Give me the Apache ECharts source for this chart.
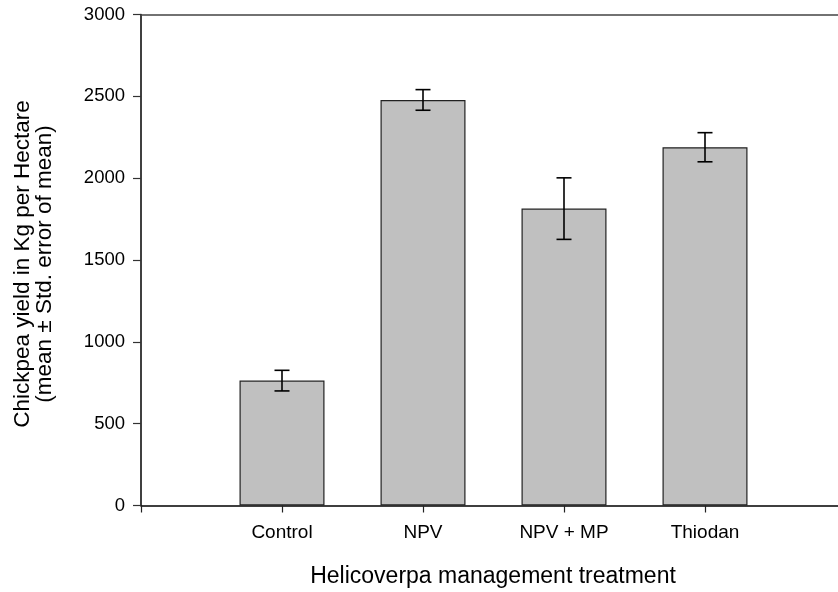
<!DOCTYPE html>
<html>
<head>
<meta charset="utf-8">
<script src="https://cdn.jsdelivr.net/npm/echarts@6/dist/echarts.min.js"></script>
<style>
  html, body { margin: 0; padding: 0; background: #fff; }
  #chart { width: 838px; height: 592px; }
</style>
</head>
<body>
<div id="chart"></div>
<script>
// Treatments along the x axis (blank slots pad the ends of the axis)
const categories = ['', 'Control', 'NPV', 'NPV + MP', 'Thiodan', ''];
// Mean yield (kg/ha) per treatment
const yieldMean = [763, 2478, 1814, 2189];
// Standard error of the mean
const yieldSE = [63, 63, 188, 89];
// Y axis ticks
const yTicks = [0, 500, 1000, 1500, 2000, 2500, 3000];

const treatments = categories.slice(1, 5);
const barData = [null].concat(yieldMean).concat([null]);
const errData = treatments.map((c, i) => [c, yieldMean[i] - yieldSE[i], yieldMean[i] + yieldSE[i]]);

const FONT = '"Liberation Sans", Arial, sans-serif';
const chart = echarts.init(document.getElementById('chart'));

chart.setOption({
  animation: false,
  backgroundColor: '#fff',
  // the plot frame runs past the right edge of the canvas
  grid: { left: 141, width: 705, top: 14.5, height: 491, containLabel: false, outerBoundsMode: 'none' },
  xAxis: [{
    type: 'category',
    data: categories,
    boundaryGap: false,
    axisLine: { lineStyle: { color: '#000', width: 1.5 } },
    axisTick: { show: true, length: 7, lineStyle: { color: '#222', width: 1.2 } },
    axisLabel: { color: '#000', fontSize: 19, fontFamily: FONT, margin: 18 },
    splitLine: { show: false }
  }, {
    type: 'category',
    position: 'top',
    data: categories,
    boundaryGap: false,
    axisLine: { lineStyle: { color: '#444', width: 1.5 } },
    axisTick: { show: false },
    axisLabel: { show: false }
  }],
  yAxis: {
    type: 'value',
    min: yTicks[0],
    max: yTicks[yTicks.length - 1],
    interval: 500,
    axisLine: { show: true, lineStyle: { color: '#000', width: 1.5 } },
    axisTick: { show: true, length: 8, lineStyle: { color: '#333', width: 1.2 } },
    axisLabel: { color: '#000', fontSize: 18.5, fontFamily: FONT, margin: 16,
                 formatter: v => String(v) },
    splitLine: { show: false }
  },
  graphic: [{
    type: 'text',
    x: 34, y: 264,
    rotation: Math.PI / 2,
    style: {
      text: 'Chickpea yield in Kg per Hectare\n(mean ± Std. error of mean)',
      font: '22.5px ' + FONT,
      fill: '#000',
      textAlign: 'center',
      textVerticalAlign: 'middle',
      lineHeight: 22
    }
  }, {
    type: 'text',
    x: 493, y: 577,
    style: {
      text: 'Helicoverpa management treatment',
      font: '23px ' + FONT,
      fill: '#000',
      textAlign: 'center',
      textVerticalAlign: 'middle'
    }
  }],
  series: [{
    type: 'bar',
    data: barData,
    barWidth: 85,
    itemStyle: { color: '#c0c0c0', borderColor: '#222', borderWidth: 1.2 }
  }, {
    type: 'custom',
    data: errData,
    z: 10,
    renderItem: function (params, api) {
      const x = api.value(0);
      const lo = api.coord([x, api.value(1)]);
      const hi = api.coord([x, api.value(2)]);
      const half = 7.5;
      const style = { stroke: '#000', lineWidth: 1.6 };
      return {
        type: 'group',
        children: [
          { type: 'line', shape: { x1: lo[0], y1: lo[1], x2: hi[0], y2: hi[1] }, style: style },
          { type: 'line', shape: { x1: hi[0] - half, y1: hi[1], x2: hi[0] + half, y2: hi[1] }, style: style },
          { type: 'line', shape: { x1: lo[0] - half, y1: lo[1], x2: lo[0] + half, y2: lo[1] }, style: style }
        ]
      };
    }
  }]
});
</script>
</body>
</html>
